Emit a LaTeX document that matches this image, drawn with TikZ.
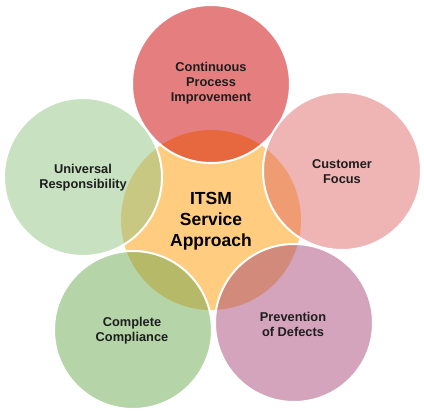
\documentclass[tikz,border=0pt]{standalone}
\usepackage{fontspec}
\setmainfont{Liberation Sans}
\begin{document}
\begin{tikzpicture}[x=1pt,y=-1pt]
\definecolor{cc}{HTML}{FFCC80}
\definecolor{ctop}{HTML}{E57F7F}\definecolor{otop}{HTML}{E7673F}
\definecolor{crt}{HTML}{EFB4B4}\definecolor{ort}{HTML}{F09C72}
\definecolor{cbr}{HTML}{D3A4BC}\definecolor{obr}{HTML}{D28A7A}
\definecolor{cbl}{HTML}{B5D5A8}\definecolor{obl}{HTML}{B5B968}
\definecolor{clf}{HTML}{C8E1C0}\definecolor{olf}{HTML}{C9C882}
\definecolor{txt}{HTML}{1E1E1E}
\tikzset{
  lbl/.style={align=center,text=txt,inner sep=0pt,font=\fontsize{12.8}{15}\selectfont\bfseries},
  clbl/.style={align=center,text=black,inner sep=0pt,font=\fontsize{17.5}{21}\selectfont\bfseries},
  rim/.style={draw=white,line width=2pt}
}
\useasboundingbox (0,0) rectangle (424,412);
\coordinate (C) at (211,220);
\coordinate (T) at (211,84);
\coordinate (R) at (342,171);
\coordinate (BR) at (294,323);
\coordinate (BL) at (133,330);
\coordinate (L) at (83,177);
\fill[cc] (C) circle[radius=90];
\foreach \p/\a/\b in {T/ctop/otop, R/crt/ort, BR/cbr/obr, BL/cbl/obl, L/clf/olf}{
  \fill[\a] (\p) circle[radius=79];
  \begin{scope}
    \clip (\p) circle[radius=79];
    \fill[\b] (C) circle[radius=90];
  \end{scope}
  \draw[rim] (\p) circle[radius=79];
}
\node[clbl] (tc) at (211,221) {ITSM\\Service\\Approach};
\node[lbl] (tt) at (211,83) {Continuous\\Process\\Improvement};
\node[lbl] (tr) at (342,172) {Customer\\Focus};
\node[lbl] (tbr) at (293,324) {Prevention\\of Defects};
\node[lbl] (tbl) at (132,331) {Complete\\Compliance};
\node[lbl] (tl) at (83,178) {Universal\\Responsibility};
\end{tikzpicture}
\end{document}
